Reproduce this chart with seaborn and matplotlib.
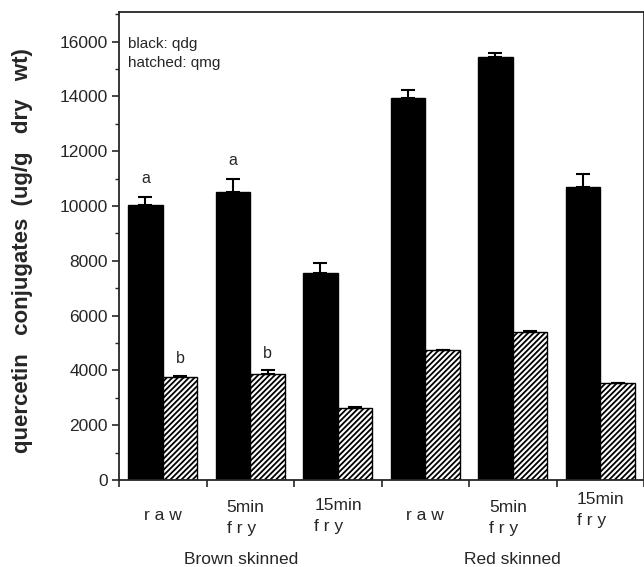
"""
Quercetin conjugates in brown and red skinned onions (raw / fried)
"""

import numpy as np
import pandas as pd
import matplotlib
matplotlib.use("Agg")
import matplotlib.pyplot as plt
import matplotlib.transforms as mtransforms
import seaborn as sns

# data
conditions = ["brown raw", "brown 5min", "brown 15min", "red raw", "red 5min", "red 15min"]
qdg_values = [10050, 10520, 7540, 13950, 15450, 10680]
qdg_errors = [270, 450, 370, 280, 130, 480]
qmg_values = [3750, 3870, 2640, 4760, 5390, 3550]
qmg_errors = [50, 140, 40, 0, 40, 0]

tick_top = ["raw", "5min", "15min", "raw", "5min", "15min"]
tick_bottom = ["", "f r y", "f r y", "", "f r y", "f r y"]
group_names = ["Brown skinned", "Red skinned"]
letters_qdg = ["a", "a", "", "", "", ""]
letters_qmg = ["b", "b", "", "", "", ""]

df = pd.DataFrame({
    "cond": conditions * 2,
    "series": ["qdg"] * 6 + ["qmg"] * 6,
    "value": qdg_values + qmg_values,
})

sns.set_style("ticks")
plt.rcParams["font.family"] = ["Liberation Sans", "DejaVu Sans"]
plt.rcParams["hatch.linewidth"] = 1.3

fig = plt.figure(figsize=(6.44, 5.67), dpi=100)
ax = fig.add_axes([119 / 644, 1 - 480 / 567, (644 - 119) / 644, (480 - 12) / 567])

sns.barplot(data=df, x="cond", y="value", hue="series", order=conditions,
            palette={"qdg": "black", "qmg": "white"}, edgecolor="black",
            linewidth=1.0, width=0.79, errorbar=None, legend=False, ax=ax)

# hatch the qmg bars and add upward error bars
bars = [p for p in ax.patches if p.get_width() > 0]
qdg_bars, qmg_bars = bars[:6], bars[6:12]
for p in qmg_bars:
    p.set_hatch("//////")

for bar_set, vals, errs, letters, dy in [(qdg_bars, qdg_values, qdg_errors, letters_qdg, 400),
                                         (qmg_bars, qmg_values, qmg_errors, letters_qmg, 350)]:
    xs = [p.get_x() + p.get_width() / 2 for p in bar_set]
    ax.errorbar(xs, vals, yerr=[np.zeros(len(errs)), errs], fmt="none",
                ecolor="black", elinewidth=1.5, capsize=5, capthick=1.5)
    for x, v, e, lab in zip(xs, vals, errs, letters):
        if lab:
            ax.text(x, v + e + dy, lab, ha="center", va="bottom", fontsize=11.5)

ax.set_xlim(-0.5, 5.5)
ax.set_ylim(0, 17080)
ax.set_yticks(np.arange(0, 16001, 2000))
ax.set_yticks(np.arange(0, 17001, 1000), minor=True)
ax.set_xticks(np.arange(-0.5, 6, 1))
ax.set_xticklabels([])
ax.tick_params(axis="y", labelsize=12.5, length=5, width=1.2, direction="out", pad=3)
ax.tick_params(axis="y", which="minor", length=3, width=1.0)
ax.tick_params(axis="x", length=5, width=1.2, direction="out")
ax.set_xlabel("")
ax.set_ylabel("quercetin   conjugates  (ug/g   dry   wt)", fontsize=16,
              fontweight="bold")
ax.yaxis.set_label_coords(-(119 - 33) / 525, 0.49)
for s in ax.spines.values():
    s.set_visible(True)
    s.set_linewidth(1.3)

# category labels below axis
trans = mtransforms.blended_transform_factory(ax.transData, fig.transFigure)
top_y = [515, 507, 505, 515, 507, 500]
for i, (t, b) in enumerate(zip(tick_top, tick_bottom)):
    if b:
        ax.text(i - 0.27, 1 - top_y[i] / 567, t, transform=trans, ha="left",
                va="center", fontsize=12.5)
        ax.text(i - 0.27, 1 - (top_y[i] + 21) / 567, b, transform=trans,
                ha="left", va="center", fontsize=12.5)
    else:
        ax.text(i, 1 - top_y[i] / 567, "r a w", transform=trans, ha="center",
                va="center", fontsize=12.5)

for g, name in enumerate(group_names):
    ax.text(0.9 + 3 * g + 0.1 * g, 1 - 560 / 567, name, transform=trans,
            ha="center", va="center", fontsize=12.5)

ax.text(0.018, 0.947, "black: qdg\nhatched: qmg", transform=ax.transAxes,
        ha="left", va="top", fontsize=11, linespacing=1.5)

fig.savefig("out.png", dpi=100)
